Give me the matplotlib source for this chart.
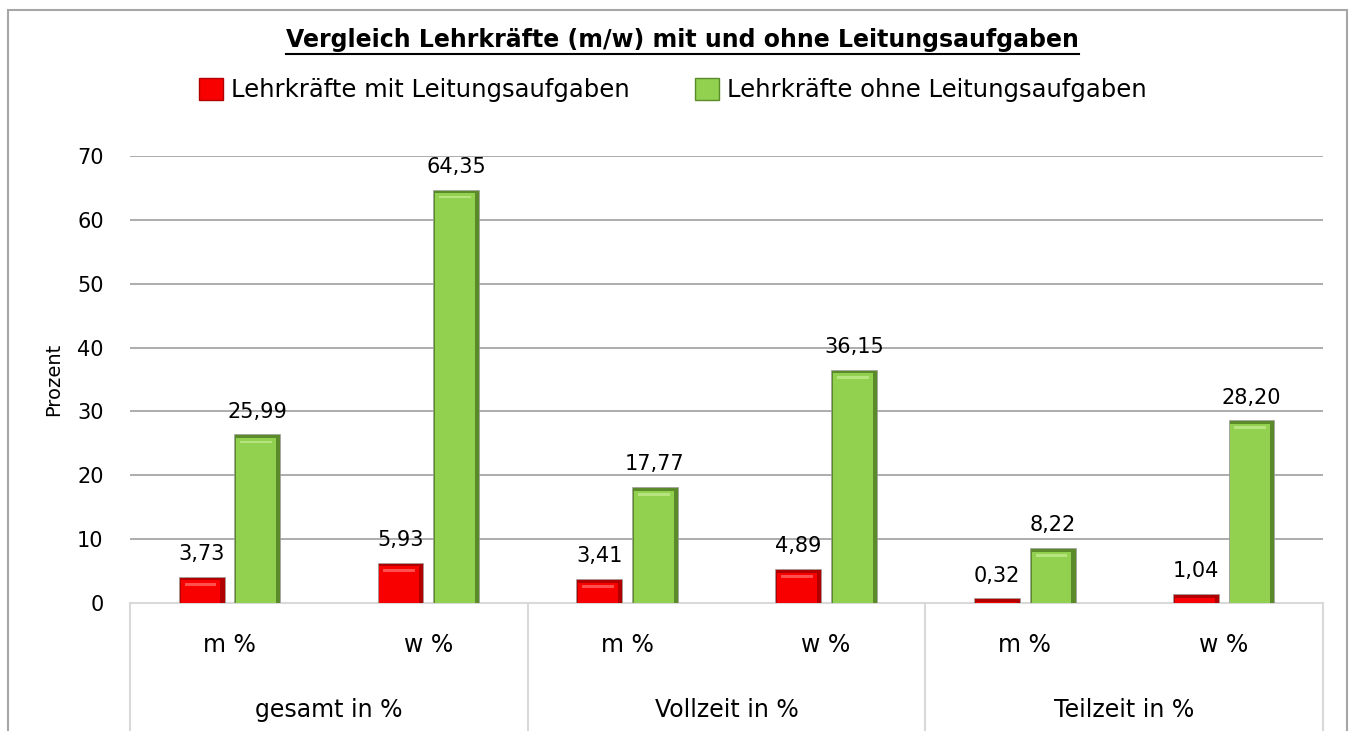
import matplotlib.pyplot as plt
from matplotlib.patches import Patch, Rectangle
from matplotlib.lines import Line2D

plt.rcParams['font.family'] = ['DejaVu Sans']

# data
groups = ["gesamt in %", "Vollzeit in %", "Teilzeit in %"]
categories = ["m %", "w %", "m %", "w %", "m %", "w %"]
mit_leitung = [3.73, 5.93, 3.41, 4.89, 0.32, 1.04]
ohne_leitung = [25.99, 64.35, 17.77, 36.15, 8.22, 28.20]
series_names = ["Lehrkräfte mit Leitungsaufgaben", "Lehrkräfte ohne Leitungsaufgaben"]

red = "#f80000"
red_dark = "#b00000"
red_light = "#ff5050"
green = "#92d050"
green_dark = "#5a8a2a"
green_light = "#b8e480"

fig = plt.figure(figsize=(13.52, 7.31), dpi=100)
ax = fig.add_axes([0.0962, 0.1751, 0.8824, 0.6115])

# outer border of the chart
fig.patches.append(Rectangle((8 / 1352, -0.01), 1339 / 1352, 1 - 10 / 731 + 0.01,
                             transform=fig.transFigure, fill=False,
                             edgecolor="#a6a6a6", lw=1.5))

x = list(range(len(categories)))
w = 0.23
off = 0.14
xr = [i - off for i in x]
xg = [i + off for i in x]

# bars with a simple bevel look: dark base, face inset, light top strip
ax.bar(xr, [v + 0.4 for v in mit_leitung], width=w, color=red_dark,
       edgecolor="#a0a0a0", linewidth=0.5, zorder=3)
ax.bar(xg, [v + 0.4 for v in ohne_leitung], width=w, color=green_dark,
       edgecolor="#a0a0a0", linewidth=0.5, zorder=3)
ax.bar([xi - 0.006 for xi in xr], [max(v - 0.2, 0) for v in mit_leitung], width=w - 0.03,
       color=red, zorder=4)
ax.bar([xi - 0.006 for xi in xg], [max(v - 0.2, 0) for v in ohne_leitung], width=w - 0.03,
       color=green, zorder=4)
for xi, v in zip(xr, mit_leitung):
    if v > 2:
        ax.bar(xi - 0.006, 0.45, bottom=v - 1.0, width=w - 0.07, color=red_light, zorder=5)
for xi, v in zip(xg, ohne_leitung):
    if v > 2:
        ax.bar(xi - 0.006, 0.45, bottom=v - 1.0, width=w - 0.07, color=green_light, zorder=5)

# value labels
for xi, v in zip(xr, mit_leitung):
    ax.annotate(f"{v:.2f}".replace(".", ","), (xi, v), xytext=(0, 11),
                textcoords="offset points", ha="center", va="bottom", fontsize=15)
for xi, v in zip(xg, ohne_leitung):
    ax.annotate(f"{v:.2f}".replace(".", ","), (xi, v), xytext=(0, 11),
                textcoords="offset points", ha="center", va="bottom", fontsize=15)

ax.set_xlim(-0.5, len(categories) - 0.5)
ax.set_ylim(0, 70)
ax.set_yticks(range(0, 71, 10))
ax.tick_params(axis="y", length=0, labelsize=15, pad=19)
ax.set_xticks([])
ax.yaxis.grid(True, color="#a6a6a6", lw=1.3, zorder=0)
for s in ["top", "right", "left"]:
    ax.spines[s].set_visible(False)
ax.spines["bottom"].set_color("#d9d9d9")
ax.spines["bottom"].set_linewidth(1.5)
ax.set_ylabel("Prozent", fontsize=14, labelpad=10)

# category and group labels below
trans = ax.get_xaxis_transform()
for i, c in enumerate(categories):
    ax.text(i, -0.095, c, transform=trans, ha="center", va="center", fontsize=17)
for g, name in enumerate(groups):
    ax.text(2 * g + 0.5, -0.24, name, transform=trans, ha="center", va="center", fontsize=17)
for b in [-0.5, 1.5, 3.5, 5.5]:
    ax.add_line(Line2D([b, b], [0, -0.3], transform=trans, color="#d9d9d9",
                       lw=1.5, clip_on=False))

# legend
handles = [Patch(facecolor=red, edgecolor=red_dark), Patch(facecolor=green, edgecolor=green_dark)]
fig.legend(handles, series_names, loc="center", bbox_to_anchor=(0.4975, 0.877), ncol=2,
           frameon=False, fontsize=17.5, handlelength=1.0, handleheight=1.0,
           handletextpad=0.3, columnspacing=2.7)

# title with underline
title = fig.text(0.505, 0.945, "Vergleich Lehrkräfte (m/w) mit und ohne Leitungsaufgaben",
                 ha="center", va="center", fontsize=17, fontweight="bold")
fig.canvas.draw()
bb = title.get_window_extent().transformed(fig.transFigure.inverted())
fig.add_artist(Line2D([bb.x0, bb.x1], [bb.y0 - 0.002, bb.y0 - 0.002],
                      transform=fig.transFigure, color="black", lw=1.5))

fig.savefig("out.png", dpi=100)
